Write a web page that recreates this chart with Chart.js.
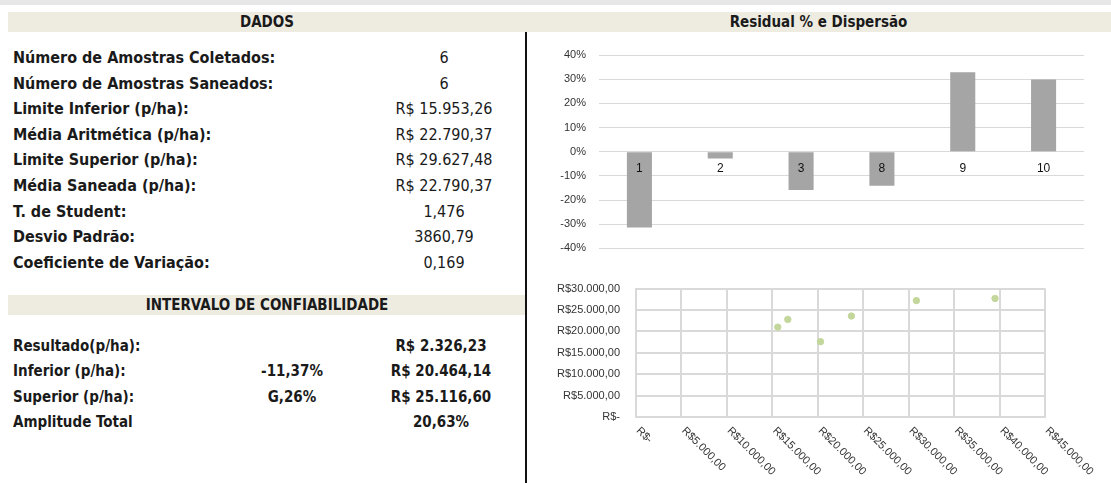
<!DOCTYPE html>
<html>
<head>
<meta charset="utf-8">
<title>Residual % e Dispersão</title>
<script src="https://cdn.jsdelivr.net/npm/chart.js@4"></script>
<style>
  body { margin: 0; width: 1111px; height: 483px; overflow: hidden; background: #fff; position: relative;
         font-family: 'DejaVu Sans Condensed', 'DejaVu Sans', sans-serif; color: #1a1a1a; }
  .strip { position: absolute; left: 0; top: 0; width: 1111px; height: 5px; background: #e7e7e7; }
  .band { position: absolute; height: 20px; line-height: 20px; background: #eeece1; font-weight: bold; font-size: 15px; text-align: center; }
  .cell { position: absolute; height: 20px; line-height: 20px; font-size: 16px; white-space: nowrap; }
  .s2 { font-size: 15px; }
  .b { font-weight: bold; }
  .sep { position: absolute; left: 525px; top: 32px; width: 2px; height: 451px; background: #111; }
  canvas { position: absolute; }
</style>
</head>
<body>
<div class="strip"></div>
<div class="band" style="left:8px;top:12px;width:518px">DADOS</div>
<div class="band" style="left:526px;top:12px;width:585px">Residual % e Dispersão</div>
<div class="band" style="left:8px;top:295px;width:518px">INTERVALO DE CONFIABILIDADE</div>
<div class="sep"></div>
<div id="table"></div>
<canvas id="bar" width="583" height="234" style="left:528px;top:34px"></canvas>
<canvas id="scatter" width="583" height="217" style="left:528px;top:266px"></canvas>

<script>
// ---- table data ----
const dadosLabels = [
  'Número de Amostras Coletados:',
  'Número de Amostras Saneados:',
  'Limite Inferior (p/ha):',
  'Média Aritmética (p/ha):',
  'Limite Superior (p/ha):',
  'Média Saneada  (p/ha):',
  'T. de Student:',
  'Desvio Padrão:',
  'Coeficiente de Variação:'
];
const dadosValues = ['6', '6', 'R$ 15.953,26', 'R$ 22.790,37', 'R$ 29.627,48', 'R$ 22.790,37', '1,476', '3860,79', '0,169'];

const intervaloLabels = ['Resultado(p/ha):', 'Inferior (p/ha):', 'Superior (p/ha):', 'Amplitude Total'];
const intervaloPct = ['', '-11,37%', 'G,26%', ''];
const intervaloValues = ['R$ 2.326,23', 'R$ 20.464,14', 'R$ 25.116,60', '20,63%'];

// ---- chart data ----
const residualCats = ['1', '2', '3', '8', '9', '10'];
const residualPct = [-0.314, -0.028, -0.158, -0.141, 0.329, 0.299];

const scatterX = [15600, 16700, 20300, 23700, 30850, 39500];
const scatterY = [21000, 22800, 17600, 23600, 27200, 27700];

// ============================================================
// TABLE
// ============================================================

function cell(text, left, top, width, cls, align) {
  return `<div class="cell ${cls}" style="left:${left}px;top:${top}px;width:${width}px;text-align:${align}">${text}</div>`;
}

let html = '';
dadosLabels.forEach((lab, i) => {
  const top = 48 + i * 25.6;
  html += cell(lab, 13, top, 330, 'b', 'left');
  html += cell(dadosValues[i], 374, top, 140, '', 'center');
});
intervaloLabels.forEach((lab, i) => {
  const top = 336 + i * 25.3;
  html += cell(lab, 13, top, 230, 'b s2', 'left');
  html += cell(intervaloPct[i], 242, top, 100, 'b s2', 'center');
  html += cell(intervaloValues[i], 371, top, 140, 'b s2', 'center');
});
document.getElementById('table').innerHTML = html;

// ============================================================
// CHARTS
// ============================================================

function brl(v) {
  if (v === 0) return 'R$-';
  const s = Math.round(v).toString().replace(/\B(?=(\d{3})+(?!\d))/g, '.');
  return 'R$' + s + ',00';
}

const tickFont = { family: 'Liberation Sans', size: 11 };
const gridGray = '#d9d9d9';

new Chart(document.getElementById('bar'), {
  type: 'bar',
  data: {
    labels: residualCats,
    datasets: [{
      data: residualPct,
      backgroundColor: '#a5a5a5',
      categoryPercentage: 1,
      barPercentage: 0.31
    }]
  },
  options: {
    responsive: false,
    animation: false,
    layout: { padding: { top: 21, right: 27, bottom: 16, left: 0 } },
    plugins: { legend: { display: false }, tooltip: { enabled: false } },
    scales: {
      x: {
        position: { y: 0 },
        grid: { display: false, drawTicks: false },
        border: { display: false },
        ticks: { z: 1, color: '#111', font: { family: 'Liberation Sans', size: 12 }, padding: 10 }
      },
      y: {
        min: -0.4,
        max: 0.4,
        ticks: { stepSize: 0.1, callback: v => Math.round(v * 100) + '%', color: '#333', font: tickFont, padding: 13 },
        grid: { color: gridGray, drawTicks: false },
        border: { display: false },
        afterFit: s => { s.width = 71; }
      }
    }
  }
});

// x labels of the scatter run down to the right from each tick
const rotatedXLabels = {
  id: 'rotatedXLabels',
  afterDraw(chart) {
    const xs = chart.scales.x;
    const ctx = chart.ctx;
    ctx.save();
    ctx.font = '11px "Liberation Sans"';
    ctx.fillStyle = '#333';
    ctx.textAlign = 'left';
    ctx.textBaseline = 'middle';
    xs.ticks.forEach((t, i) => {
      const px = xs.getPixelForTick(i);
      ctx.save();
      ctx.translate(px + 2, chart.chartArea.bottom + 12);
      ctx.rotate(Math.PI / 4);
      ctx.fillText(brl(t.value), 0, 0);
      ctx.restore();
    });
    ctx.restore();
  }
};

new Chart(document.getElementById('scatter'), {
  type: 'scatter',
  data: {
    datasets: [{
      data: scatterX.map((x, i) => ({ x, y: scatterY[i] })),
      backgroundColor: '#c3d69b',
      borderColor: '#c3d69b',
      pointRadius: 3.2
    }]
  },
  options: {
    responsive: false,
    animation: false,
    layout: { padding: { top: 11, right: 66, bottom: 0, left: 0 } },
    plugins: { legend: { display: false }, tooltip: { enabled: false } },
    scales: {
      x: {
        type: 'linear',
        min: 0,
        max: 45000,
        ticks: { stepSize: 5000, display: false },
        grid: { color: gridGray, lineWidth: 2, drawTicks: false },
        border: { color: gridGray, width: 2 },
        afterFit: s => { s.height = 66; }
      },
      y: {
        min: 0,
        max: 30000,
        ticks: { stepSize: 5000, callback: v => brl(v), color: '#333', font: tickFont, padding: 16 },
        grid: { color: gridGray, lineWidth: 2, drawTicks: false },
        border: { color: gridGray, width: 2 },
        afterFit: s => { s.width = 108; }
      }
    }
  },
  plugins: [rotatedXLabels]
});
</script>
</body>
</html>
